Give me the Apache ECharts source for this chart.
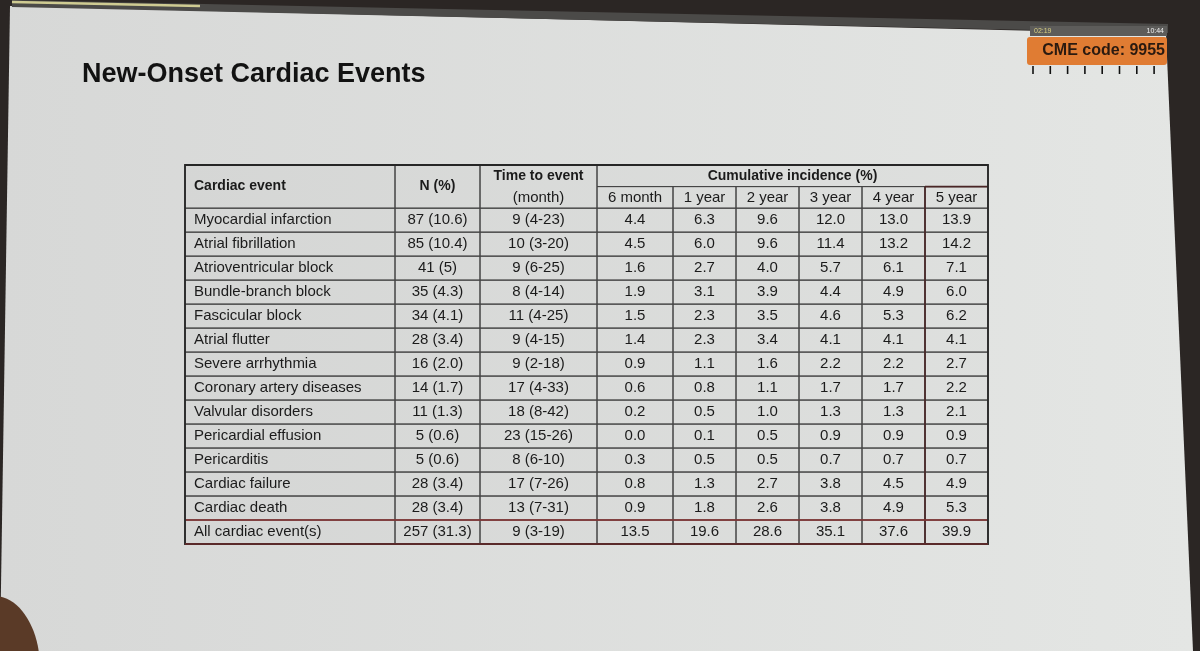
<!DOCTYPE html>
<html><head><meta charset="utf-8">
<script src="https://cdn.jsdelivr.net/npm/echarts@6/dist/echarts.min.js"></script>
<style>html,body{margin:0;padding:0;background:#2b2624;}#main{width:1200px;height:651px;}</style>
</head><body><div id="main"></div>
<script>
// ---------- data ----------
const categories = ["Myocardial infarction","Atrial fibrillation","Atrioventricular block","Bundle-branch block","Fascicular block","Atrial flutter","Severe arrhythmia","Coronary artery diseases","Valvular disorders","Pericardial effusion","Pericarditis","Cardiac failure","Cardiac death","All cardiac event(s)"];
const nPercent = ["87 (10.6)","85 (10.4)","41 (5)","35 (4.3)","34 (4.1)","28 (3.4)","16 (2.0)","14 (1.7)","11 (1.3)","5 (0.6)","5 (0.6)","28 (3.4)","28 (3.4)","257 (31.3)"];
const timeToEvent = ["9 (4-23)","10 (3-20)","9 (6-25)","8 (4-14)","11 (4-25)","9 (4-15)","9 (2-18)","17 (4-33)","18 (8-42)","23 (15-26)","8 (6-10)","17 (7-26)","13 (7-31)","9 (3-19)"];
const inc6m = [4.4,4.5,1.6,1.9,1.5,1.4,0.9,0.6,0.2,0.0,0.3,0.8,0.9,13.5];
const inc1y = [6.3,6.0,2.7,3.1,2.3,2.3,1.1,0.8,0.5,0.1,0.5,1.3,1.8,19.6];
const inc2y = [9.6,9.6,4.0,3.9,3.5,3.4,1.6,1.1,1.0,0.5,0.5,2.7,2.6,28.6];
const inc3y = [12.0,11.4,5.7,4.4,4.6,4.1,2.2,1.7,1.3,0.9,0.7,3.8,3.8,35.1];
const inc4y = [13.0,13.2,6.1,4.9,5.3,4.1,2.2,1.7,1.3,0.9,0.7,4.5,4.9,37.6];
const inc5y = [13.9,14.2,7.1,6.0,6.2,4.1,2.7,2.2,2.1,0.9,0.7,4.9,5.3,39.9];
const incidenceHeaders = ["6 month","1 year","2 year","3 year","4 year","5 year"];
const headerLabels = ["Cardiac event","N (%)","Time to event","(month)","Cumulative incidence (%)"];
const titleText = "New-Onset Cardiac Events";
const badgeText = "CME code: 9955";

// ---------- layout (not data) ----------
const colEdges = [0,210,295,412,488,551,614,677,740,803];
const rowEdges = [0,0.9,1.8];
for (let i = 1; i <= categories.length; i++) rowEdges.push(1.8 + i);
const FONT = '"Liberation Sans", Arial, sans-serif';
const incidenceSeries = [inc6m,inc1y,inc2y,inc3y,inc4y,inc5y];

const cells = [];
cells.push({value:[0,1,0,2], lines:[{t:headerLabels[0],b:true,sub:-1}], align:'left'});
cells.push({value:[1,2,0,2], lines:[{t:headerLabels[1],b:true,sub:-1}]});
cells.push({value:[2,3,0,2], lines:[{t:headerLabels[2],b:true,sub:0},{t:headerLabels[3],b:false,sub:1}]});
cells.push({value:[3,9,0,1], lines:[{t:headerLabels[4],b:true,sub:-1}]});
incidenceHeaders.forEach((h,i)=>cells.push({value:[3+i,4+i,1,2], lines:[{t:h,b:false,sub:-1}]}));
categories.forEach((cat,r)=>{
  const ri = 2 + r;
  cells.push({value:[0,1,ri,ri+1], lines:[{t:cat}], align:'left'});
  cells.push({value:[1,2,ri,ri+1], lines:[{t:nPercent[r]}]});
  cells.push({value:[2,3,ri,ri+1], lines:[{t:timeToEvent[r]}]});
  incidenceSeries.forEach((arr,i)=>cells.push({value:[3+i,4+i,ri,ri+1], lines:[{t:arr[r].toFixed(1)}]}));
});

function renderCell(params, api){
  const cell = cells[params.dataIndex];
  const c0 = api.value(0), c1 = api.value(1), r0 = api.value(2), r1 = api.value(3);
  const p0 = api.coord([colEdges[c0], rowEdges[r0]]);
  const p1 = api.coord([colEdges[c1], rowEdges[r1]]);
  const x = p0[0], y = p0[1], w = p1[0]-p0[0], h = p1[1]-p0[1];
  const children = [{type:'rect', shape:{x:x,y:y,width:w,height:h},
    style:{fill:'rgba(0,0,0,0.015)', stroke:'#454545', lineWidth:1}}];
  cell.lines.forEach(l=>{
    let cy;
    if (l.sub === undefined || l.sub === -1) cy = y + h/2;
    else {
      const a = api.coord([0, rowEdges[r0+l.sub]])[1];
      const b = api.coord([0, rowEdges[r0+l.sub+1]])[1];
      cy = (a+b)/2;
    }
    const left = cell.align === 'left';
    children.push({type:'text', style:{
      text:l.t, x: left ? x+9 : x+w/2, y: cy,
      textAlign: left ? 'left' : 'center', align: left ? 'left' : 'center',
      textVerticalAlign:'middle', verticalAlign:'middle',
      font: (l.b ? 'bold 14px ' : '15px ') + FONT, fill:'#1b1b1b'}});
  });
  return {type:'group', children};
}

function renderFrame(params, api){
  const tl = api.coord([colEdges[0], rowEdges[0]]);
  const br = api.coord([colEdges[9], rowEdges[rowEdges.length-1]]);
  const lastTop = api.coord([0, rowEdges[rowEdges.length-2]])[1];
  const x5 = api.coord([colEdges[8], 0])[0];
  const subTop = api.coord([0, rowEdges[1]])[1];
  return {type:'group', children:[
    {type:'line', shape:{x1:x5,y1:subTop,x2:x5,y2:br[1]}, style:{stroke:'#4a2626', lineWidth:1.6}},
    {type:'line', shape:{x1:x5,y1:subTop,x2:br[0],y2:subTop}, style:{stroke:'#4a2626', lineWidth:1.6}},
    {type:'line', shape:{x1:tl[0],y1:lastTop,x2:br[0],y2:lastTop}, style:{stroke:'#8a3434', lineWidth:1.6}},
    {type:'rect', shape:{x:tl[0],y:tl[1],width:br[0]-tl[0],height:br[1]-tl[1]},
      style:{fill:'none', stroke:'#262626', lineWidth:1.8}},
    {type:'line', shape:{x1:tl[0],y1:br[1],x2:br[0],y2:br[1]}, style:{stroke:'#5a2a2a', lineWidth:1.8}}
  ]};
}

const ticks = [];
for (let i = 0; i < 8; i++) {
  const tx = 1033 + i*17.3;
  ticks.push({type:'line', shape:{x1:tx,y1:66,x2:tx,y2:74}, style:{stroke:'#111', lineWidth:1.6}});
}

const chart = echarts.init(document.getElementById('main'));
chart.setOption({
  animation:false,
  backgroundColor:'#2b2624',
  title:{text:titleText, left:82, top:61, padding:0,
    textStyle:{fontSize:27, fontWeight:'bold', fontFamily:FONT, color:'#121212'}},
  graphic:[
    {type:'polygon', z:0, shape:{points:[[10,6],[1166,34],[1193,651],[0,651]]},
      style:{fill:new echarts.graphic.LinearGradient(0,0,1,0,[{offset:0,color:'#d7d8d7'},{offset:1,color:'#e4e6e4'}])}},
    {type:'polygon', z:1, shape:{points:[[12,0],[1168,24],[1168,33],[12,7]]}, style:{fill:'#4b4a48'}},
    {type:'line', z:2, shape:{x1:12,y1:2,x2:200,y2:6}, style:{stroke:'#cfcb92', lineWidth:2.5}},
    {type:'rect', z:2, shape:{x:1030,y:26,width:137,height:10}, style:{fill:'#5d5c5a'}},
    {type:'text', z:3, style:{text:'02:19', x:1034, y:31, verticalAlign:'middle', textVerticalAlign:'middle', font:'7px '+FONT, fill:'#d8cf80'}},
    {type:'text', z:3, style:{text:'10:44', x:1164, y:31, align:'right', textAlign:'right', verticalAlign:'middle', textVerticalAlign:'middle', font:'7px '+FONT, fill:'#f0f0f0'}},
    {type:'rect', z:3, shape:{x:1027,y:37,width:140,height:28,r:3}, style:{fill:'#e07c33'}},
    {type:'text', z:4, style:{text:badgeText, x:1165, y:51, align:'right', textAlign:'right', verticalAlign:'middle', textVerticalAlign:'middle', font:'bold 16px '+FONT, fill:'#2a1a10'}},
    ...ticks,
    {type:'ellipse', z:2, shape:{cx:-6,cy:668,rx:46,ry:72}, style:{fill:'#5a3a27'}}
  ],
  grid:{left:185, top:165, width:803, height:379},
  xAxis:{type:'value', min:0, max:803, show:false},
  yAxis:{type:'value', min:0, max:15.8, inverse:true, show:false},
  series:[
    {type:'custom', name:'cells', coordinateSystem:'cartesian2d', renderItem:renderCell,
      data:cells.map(c=>c.value), z:3},
    {type:'custom', name:'frame', coordinateSystem:'cartesian2d', renderItem:renderFrame,
      data:[[0,0]], z:4}
  ]
});
</script>
</body></html>
